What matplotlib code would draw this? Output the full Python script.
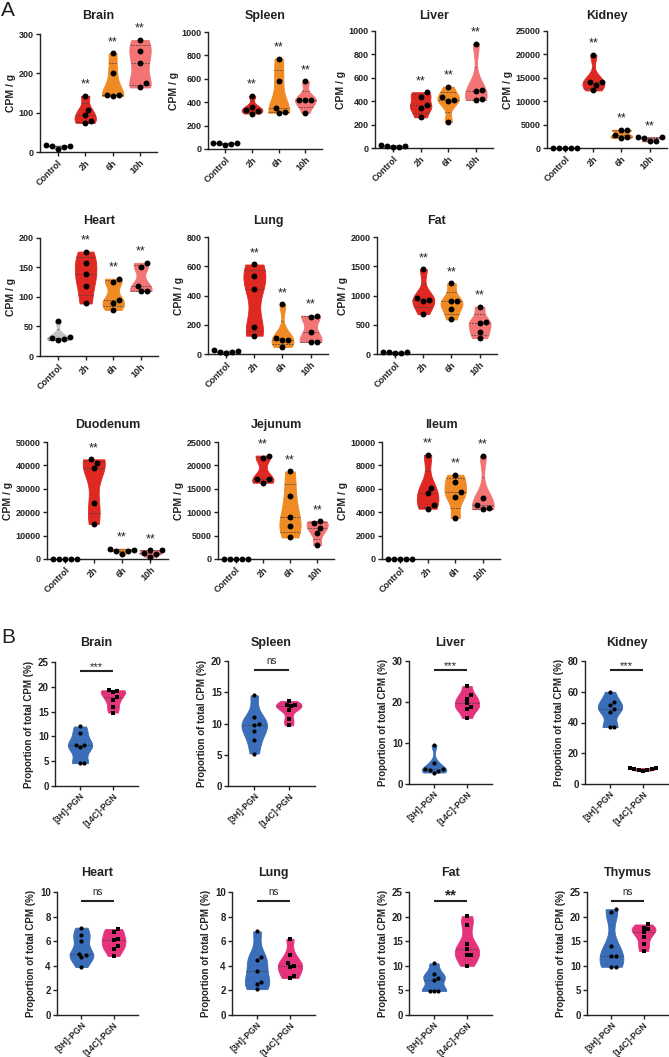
import numpy as np
import matplotlib.pyplot as plt

plt.rcParams['font.family'] = ['Liberation Sans', 'DejaVu Sans']

W, H = 669, 1057

# ---------------- panel A data (CPM / g) ----------------
times = ['Control', '2h', '6h', '10h']
time_colors = ['#c4c4c4', '#e02822', '#f08a24', '#f27474']

brain_a = [[13, 17, 16, 15, 8], [143, 108, 94, 79, 74], [251, 200, 146, 142, 146], [285, 258, 226, 176, 164]]
spleen_a = [[50, 55, 52, 45, 38], [455, 335, 360, 325, 303], [773, 580, 352, 310, 315], [578, 420, 415, 418, 310]]
liver_a = [[10, 25, 15, 18, 5], [477, 440, 366, 340, 262], [525, 437, 398, 412, 224], [893, 497, 484, 415, 412]]
kidney_a = [[20, 10, 30, 15, 25], [19900, 14200, 14200, 13500, 12300], [3900, 2850, 3800, 2100, 2450], [2300, 2250, 2200, 1400, 1450]]
heart_a = [[60, 33, 27, 28, 30], [177, 157, 139, 119, 89], [131, 125, 95, 90, 78], [158, 150, 119, 111, 110]]
lung_a = [[15, 25, 20, 15, 5], [612, 530, 447, 185, 125], [340, 108, 93, 95, 48], [262, 255, 150, 85, 82]]
fat_a = [[25, 40, 35, 30, 10], [1450, 955, 910, 920, 680], [1210, 900, 900, 775, 590], [808, 550, 530, 380, 270]]
duodenum_a = [[30, 20, 40, 10, 25], [42600, 41200, 38800, 24000, 15000], [4400, 3800, 3600, 3500, 2000], [3800, 3700, 2400, 2300, 900]]
jejunum_a = [[30, 20, 40, 10, 25], [22100, 21600, 17200, 17000, 16300], [18700, 13400, 9000, 7000, 4600], [8100, 6700, 5500, 7600, 3000]]
ileum_a = [[30, 20, 40, 10, 25], [8900, 6100, 5650, 4600, 4300], [7200, 6600, 5700, 5300, 3500], [8800, 5250, 4600, 4350, 4250]]

organs_a = ['Brain', 'Spleen', 'Liver', 'Kidney', 'Heart', 'Lung', 'Fat', 'Duodenum', 'Jejunum', 'Ileum']
data_a = [brain_a, spleen_a, liver_a, kidney_a, heart_a, lung_a, fat_a, duodenum_a, jejunum_a, ileum_a]
ymax_a = [300, 1000, 1000, 25000, 200, 800, 2000, 50000, 25000, 10000]
ystep_a = [100, 200, 200, 5000, 50, 200, 500, 10000, 5000, 2000]

# ---------------- panel B data (% of total CPM) ----------------
labels = ['[3H]-PGN', '[14C]-PGN']
label_colors = ['#3a6eb8', '#e5327c']

brain_b = [[12.0, 10.6, 8.2, 8.2, 7.9, 4.6, 4.6], [19.2, 19.3, 19.0, 18.0, 17.3, 16.0, 14.8]]
spleen_b = [[14.5, 11.1, 10.0, 9.8, 8.8, 7.4, 5.2], [13.6, 12.9, 12.8, 12.9, 12.2, 10.7, 9.7]]
liver_b = [[9.5, 5.2, 3.7, 3.6, 3.3, 2.8, 3.1], [23.9, 21.6, 20.8, 19.7, 18.7, 18.3, 16.1]]
kidney_b = [[60, 53.6, 51.5, 48.5, 47, 37, 37], [10.4, 10.2, 9.8, 9.6, 9.4, 9.0, 8.7]]
heart_b = [[7.1, 6.5, 6.0, 5.0, 4.9, 4.7, 3.9], [7.0, 6.75, 6.2, 6.1, 5.6, 5.4, 4.8]]
lung_b = [[6.8, 4.5, 4.7, 3.6, 2.7, 2.5, 2.1], [6.2, 4.9, 4.2, 4.0, 3.9, 3.2, 3.0]]
fat_b = [[10.5, 8.4, 7.6, 7.2, 4.9, 4.9, 4.9], [20.1, 18.3, 14.4, 13.5, 12.2, 12.1, 10.0]]
thymus_b = [[21.5, 20.9, 14.0, 12.0, 12.0, 9.8, 9.8], [18.4, 17.4, 17.7, 16.8, 15.9, 14.4, 13.0]]

organs_b = ['Brain', 'Spleen', 'Liver', 'Kidney', 'Heart', 'Lung', 'Fat', 'Thymus']
data_b = [brain_b, spleen_b, liver_b, kidney_b, heart_b, lung_b, fat_b, thymus_b]
ymax_b = [25, 20, 30, 80, 10, 10, 25, 25]
ystep_b = [5, 5, 10, 20, 2, 2, 5, 5]
sig_b = ['***', 'ns', '***', '***', 'ns', 'ns', '**', 'ns']

# axes boxes in pixels: left, right, top, bottom
box_a = [(40, 157, 34, 152), (208, 322, 32, 149), (375, 493, 31, 148), (547, 667, 31, 148),
         (40, 158, 238, 356), (208, 328, 237, 354), (377, 497, 237, 354),
         (47, 168, 442, 559), (218, 334, 442, 559), (382, 500, 442, 559)]
title_y_a = [16, 16, 16, 16, 221, 221, 221, 425, 425, 425]
box_b = [(55, 138, 662, 786), (228, 315, 661, 786), (409, 492, 661, 784), (585, 668, 661, 784),
         (57, 138, 892, 1015), (232, 315, 892, 1015), (409, 492, 892, 1015), (587, 668, 892, 1015)]
title_y_b = [643, 643, 643, 643, 873, 873, 873, 873]

INK = '#222222'
fig = plt.figure(figsize=(W / 100, H / 100), dpi=100)


def make_ax(box):
    l, r, t, b = box
    ax = fig.add_axes([l / W, 1 - b / H, (r - l) / W, (b - t) / H])
    for s in ['top', 'right']:
        ax.spines[s].set_visible(False)
    for s in ['left', 'bottom']:
        ax.spines[s].set_linewidth(1.0)
        ax.spines[s].set_color(INK)
    ax.tick_params(length=3, width=1.0, color=INK, pad=1.5, labelsize=6.5, labelcolor=INK)
    return ax


def violin(ax, pos, vals, color, width, quart=True):
    v = np.asarray(vals, float)
    ys = np.linspace(v.min(), v.max(), 150)
    sd = v.std(ddof=1)
    bw = max(0.7 * sd * len(v) ** (-0.2), 1e-9)
    dens = np.exp(-0.5 * ((ys[:, None] - v[None, :]) / bw) ** 2).sum(1)
    dens = dens / dens.max() * width / 2
    ax.fill_betweenx(ys, pos - dens, pos + dens, color=color, lw=0.6, edgecolor=color, zorder=2)
    qs = [25, 50, 75] if quart else [50]
    for q in np.percentile(v, qs, method='weibull'):
        w = np.interp(q, ys, dens)
        ax.plot([pos - w, pos + w], [q, q], ls=(0, (2.2, 1.4)), color='#444444', lw=0.55, zorder=3)


def swarm(ax, pos, vals, diam):
    v = np.asarray(vals, float)
    pts = ax.transData.transform(np.column_stack([np.full(len(v), pos), v]))
    placed = []
    xs = np.zeros(len(v))
    for i in np.argsort(v):
        px, py = pts[i]
        for k in [0, 0.5, -0.5, 1, -1, 1.5, -1.5, 2, -2, 2.5, -2.5, 3, -3]:
            cx = px + k * diam
            if all(np.hypot(cx - qx, py - qy) >= diam * 0.95 for qx, qy in placed):
                break
        placed.append((cx, py))
        xs[i] = ax.transData.inverted().transform((cx, py))[0]
    return xs


# ---------------- draw panel A ----------------
for name, groups, ymax, step, box, ty in zip(organs_a, data_a, ymax_a, ystep_a, box_a, title_y_a):
    ax = make_ax(box)
    ax.set_xlim(-0.65, 3.62)
    ax.set_ylim(0, ymax)
    ax.set_yticks(np.arange(0, ymax + step / 2, step))
    for lab in ax.get_yticklabels():
        lab.set_fontweight('bold')
    ax.set_xticks(range(len(times)))
    ax.set_xticklabels(times, rotation=45, ha='right', rotation_mode='anchor', fontweight='bold', fontsize=6.5)
    ax.set_ylabel('CPM / g', fontsize=7.5, fontweight='bold', labelpad=2, color=INK)
    for i, (vals, c) in enumerate(zip(groups, time_colors)):
        violin(ax, i, vals, c, 0.78)
        xs = swarm(ax, i, vals, 6.0)
        ax.scatter(xs, vals, s=18, color='black', zorder=4, clip_on=False, linewidths=0)
        if i > 0:
            ax.annotate('**', xy=(i, max(vals)), xytext=(0, 8), textcoords='offset points',
                        ha='center', va='center', fontsize=9, color=INK, annotation_clip=False)
    l, r, t, b = box
    fig.text((l + r) / 2 / W, 1 - ty / H, name, ha='center', va='center', fontsize=9, fontweight='bold', color=INK)

# ---------------- draw panel B ----------------
for name, groups, ymax, step, box, ty, sig in zip(organs_b, data_b, ymax_b, ystep_b, box_b, title_y_b, sig_b):
    ax = make_ax(box)
    ax.set_xlim(-0.76, 1.76)
    ax.set_ylim(0, ymax)
    ax.set_yticks(np.arange(0, ymax + step / 2, step))
    for lab in ax.get_yticklabels():
        lab.set_fontweight('bold')
        lab.set_fontsize(7)
    ax.set_xticks(range(len(labels)))
    ax.tick_params(axis='x', pad=1)
    ax.set_xticklabels(labels, rotation=45, ha='right', rotation_mode='anchor', fontweight='bold', fontsize=6.3)
    ax.set_ylabel('Proportion of total CPM (%)', fontsize=7, fontweight='bold', labelpad=3, color=INK)
    markers = ['o', 's']
    for i, (vals, c) in enumerate(zip(groups, label_colors)):
        violin(ax, i, vals, c, 0.74, quart=False)
        xs = swarm(ax, i, vals, 4.4)
        ax.scatter(xs, vals, s=9, marker=markers[i], color='black', zorder=4, clip_on=False, linewidths=0)
    ly = ymax * 0.925
    ax.plot([0, 1], [ly, ly], color=INK, lw=1.5, clip_on=False, solid_capstyle='butt')
    if sig == 'ns':
        ax.annotate(sig, xy=(0.5, ly), xytext=(0, 7), textcoords='offset points', ha='center', va='center',
                    fontsize=7, color=INK, annotation_clip=False)
    elif sig == '**':
        ax.annotate(sig, xy=(0.5, ly), xytext=(0, 4), textcoords='offset points', ha='center', va='center',
                    fontsize=11, fontweight='bold', color=INK, annotation_clip=False)
    else:
        ax.annotate(sig, xy=(0.5, ly), xytext=(0, 3), textcoords='offset points', ha='center', va='center',
                    fontsize=8, color=INK, annotation_clip=False)
    l, r, t, b = box
    fig.text((l + r) / 2 / W, 1 - ty / H, name, ha='center', va='center', fontsize=9, fontweight='bold', color=INK)

fig.text(1 / W, 1 - 1 / H, 'A', ha='left', va='top', fontsize=15, color=INK)
fig.text(1 / W, 1 - 628 / H, 'B', ha='left', va='top', fontsize=15, color=INK)

fig.savefig('out.png', dpi=100)
